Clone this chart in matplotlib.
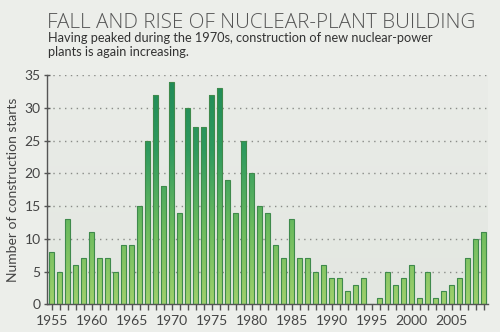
import numpy as np
import matplotlib
matplotlib.use("Agg")
import matplotlib.pyplot as plt
from matplotlib.colors import LinearSegmentedColormap

years = list(range(1955, 2010))
starts = [8, 5, 13, 6, 7, 11, 7, 7, 5, 9,
          9, 15, 25, 32, 18, 34, 14, 30, 27, 27,
          32, 33, 19, 14, 25, 20, 15, 14, 9, 7,
          13, 7, 7, 5, 6, 4, 4, 2, 3, 4,
          0, 1, 5, 3, 4, 6, 1, 5, 1, 2,
          3, 4, 7, 10, 11]
yticks = [0, 5, 10, 15, 20, 25, 30, 35]
xticks = [1955, 1960, 1965, 1970, 1975, 1980, 1985, 1990, 1995, 2000, 2005]

title = "FALL AND RISE OF NUCLEAR-PLANT BUILDING"
subtitle_lines = ["Having peaked during the 1970s, construction of new nuclear-power",
                  "plants is again increasing."]
ylabel = "Number of construction starts"

plt.rcParams['font.family'] = ['Lato', 'DejaVu Sans']

W, H = 500, 332
fig = plt.figure(figsize=(W / 100, H / 100), dpi=100, facecolor='#eceeea')

ax = fig.add_axes([47 / W, 1 - 304.3 / H, (488 - 47) / W, (304.3 - 75) / H])
ax.set_facecolor('none')
ax.set_xlim(1954.41, 2009.55)
ax.set_ylim(0, 35)

# soft vertical background shade inside the plot
bg = LinearSegmentedColormap.from_list('bg', ['#e3e7e1', '#eaece8'])
ax.imshow(np.linspace(0, 1, 256).reshape(-1, 1), cmap=bg, origin='lower',
          extent=[1954.41, 2009.55, 0, 35], aspect='auto', zorder=0)

# dotted grid
for v in yticks[1:]:
    ax.axhline(v, color='#8a8c88', lw=1.0, ls=(0, (1, 3.2)), zorder=1)

# bars with a green vertical gradient
green = LinearSegmentedColormap.from_list('g', ['#9fd06c', '#6cbb5e', '#2f9a5e', '#1f8a58'])
bars = ax.bar(years, starts, width=0.62, color='none', edgecolor='#3f8a4c',
              linewidth=0.8, zorder=3)
grad = np.linspace(0, 1, 256).reshape(-1, 1)
for b in bars:
    if b.get_height() <= 0:
        continue
    im = ax.imshow(grad, cmap=green, origin='lower', aspect='auto',
                   extent=[b.get_x(), b.get_x() + b.get_width(), 0, 35],
                   zorder=2, interpolation='bilinear')
    im.set_clip_path(b)

ax.set_xlim(1954.41, 2009.55)
ax.set_ylim(0, 35)

for s in ['top', 'right']:
    ax.spines[s].set_visible(False)
for s in ['left', 'bottom']:
    ax.spines[s].set_color('#555555')
    ax.spines[s].set_linewidth(1.0)

ax.set_yticks(yticks)
ax.set_yticklabels([str(v) for v in yticks])
ax.set_xticks(xticks)
ax.set_xticklabels([str(v) for v in xticks])
ax.set_xticks(years, minor=True)
ax.tick_params(axis='y', direction='inout', length=5, width=1, color='#555555',
               labelsize=10, labelcolor='#444444', pad=2)
ax.tick_params(axis='x', which='both', direction='out', length=4, width=1,
               color='#555555', labelsize=10, labelcolor='#444444', pad=4)

fig.text(47 / W, 1 - 27.5 / H, title, fontsize=14.9,
         family=['Open Sans', 'DejaVu Sans'], fontweight='light',
         color='#555555', va='baseline', ha='left')
for i, line in enumerate(subtitle_lines):
    fig.text(48 / W, 1 - (42 + 14 * i) / H, line, fontsize=9.2,
             color='#333333', va='baseline', ha='left')
fig.text(13 / W, 1 - 190 / H, ylabel, rotation=90, fontsize=10,
         color='#444444', va='center', ha='center')

fig.savefig('out.png', dpi=100, facecolor=fig.get_facecolor())
